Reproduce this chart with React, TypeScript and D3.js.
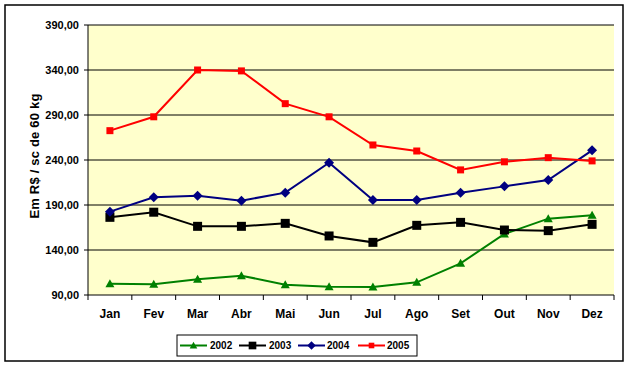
import React from 'react';
import * as d3 from 'd3';

const months = ['Jan', 'Fev', 'Mar', 'Abr', 'Mai', 'Jun', 'Jul', 'Ago', 'Set', 'Out', 'Nov', 'Dez'];
const yTicks = [90, 140, 190, 240, 290, 340, 390];

const s2002 = [102.6, 101.9, 107.4, 111.5, 101.5, 99.3, 98.9, 104.1, 125.2, 157.8, 174.8, 178.5];
const s2003 = [176.3, 182, 166.3, 166.3, 169.6, 155.6, 148.5, 167.4, 170.7, 162.2, 161.5, 168.5];
const s2004 = [182.6, 198.5, 200.4, 194.8, 203.7, 237, 195.6, 195.6, 203.7, 210.7, 217.8, 250.7];
const s2005 = [272.6, 288, 340, 339, 302.6, 288, 256.7, 250, 229, 238, 242.6, 239];

const series = [
  { name: '2002', values: s2002, color: '#008000', marker: 'triangle' },
  { name: '2003', values: s2003, color: '#000000', marker: 'square' },
  { name: '2004', values: s2004, color: '#000080', marker: 'diamond' },
  { name: '2005', values: s2005, color: '#FF0000', marker: 'smallsquare' },
];

const W = 630;
const H = 367;
const plot = { left: 88, top: 25, right: 614, bottom: 295 };
const font = 'Arial, "Liberation Sans", sans-serif';

function Marker({ type, x, y, color }: { type: string; x: number; y: number; color: string }) {
  if (type === 'triangle') {
    return <path d={`M${x},${y - 4.5}L${x + 4.5},${y + 3.5}L${x - 4.5},${y + 3.5}Z`} fill={color} />;
  }
  if (type === 'square') {
    return <rect x={x - 4.5} y={y - 4.5} width={9} height={9} fill={color} />;
  }
  if (type === 'diamond') {
    return <path d={`M${x},${y - 5}L${x + 5},${y}L${x},${y + 5}L${x - 5},${y}Z`} fill={color} />;
  }
  return <rect x={x - 3.5} y={y - 3.5} width={7} height={7} fill={color} />;
}

export default function App() {
  const x = d3.scaleBand().domain(months).range([plot.left, plot.right]);
  const y = d3.scaleLinear().domain([90, 390]).range([plot.bottom, plot.top]);
  const cx = (m: string) => (x(m) as number) + x.bandwidth() / 2;
  const line = d3
    .line<number>()
    .x((_d, i) => cx(months[i]))
    .y((d) => y(d));

  const boundaries = months.map((m) => x(m) as number).concat([plot.right]);

  const legendItems = [
    { lx: 180, tx: 210 },
    { lx: 239, tx: 269 },
    { lx: 298, tx: 327 },
    { lx: 358, tx: 387 },
  ];

  return (
    <svg width={W} height={H} style={{ position: 'absolute', left: 0, top: 0, background: '#fff' }} fontFamily={font}>
      <rect x={5} y={5} width={618} height={356} fill="#fff" stroke="#000" strokeWidth={1.5} />
      <rect x={plot.left} y={plot.top} width={plot.right - plot.left} height={plot.bottom - plot.top} fill="#FFFFCC" />

      {yTicks.slice(1).map((t) => (
        <line key={t} x1={plot.left} x2={plot.right} y1={y(t)} y2={y(t)} stroke="#000" strokeWidth={1} />
      ))}

      {/* axes */}
      <line x1={plot.left} x2={plot.left} y1={plot.top} y2={plot.bottom} stroke="#000" />
      <line x1={plot.left} x2={plot.right} y1={plot.bottom} y2={plot.bottom} stroke="#000" />
      {yTicks.map((t) => (
        <g key={t}>
          <line x1={plot.left - 4} x2={plot.left} y1={y(t)} y2={y(t)} stroke="#000" />
          <text x={79} y={y(t) + 4} textAnchor="end" fontSize={11} fontWeight="bold">
            {t.toFixed(2).replace('.', ',')}
          </text>
        </g>
      ))}
      {boundaries.map((b, i) => (
        <line key={i} x1={b} x2={b} y1={plot.bottom} y2={plot.bottom + 5} stroke="#000" />
      ))}
      {months.map((m) => (
        <text key={m} x={cx(m)} y={318} textAnchor="middle" fontSize={12} fontWeight="bold">
          {m}
        </text>
      ))}

      <text
        transform={`translate(39,156) rotate(-90)`}
        textAnchor="middle"
        fontSize={13}
        fontWeight="bold"
        letterSpacing={0.2}
      >
        Em R$ / sc de 60 kg
      </text>

      {series.map((s) => (
        <g key={s.name}>
          <path d={line(s.values) || ''} fill="none" stroke={s.color} strokeWidth={2} />
          {s.values.map((v, i) => (
            <Marker key={i} type={s.marker} x={cx(months[i])} y={y(v)} color={s.color} />
          ))}
        </g>
      ))}

      {/* legend */}
      <rect x={177} y={335} width={240} height={21} fill="#fff" stroke="#000" strokeWidth={1} />
      {series.map((s, i) => {
        const it = legendItems[i];
        const my = 345.5;
        const lw = 27;
        const sc = s.marker === 'smallsquare' ? 0.8 : 0.85;
        return (
          <g key={s.name}>
            <line x1={it.lx} x2={it.lx + lw} y1={my} y2={my} stroke={s.color} strokeWidth={2} />
            <g transform={`translate(${it.lx + lw / 2},${my}) scale(${sc}) translate(${-(it.lx + lw / 2)},${-my})`}>
              <Marker type={s.marker} x={it.lx + lw / 2} y={my} color={s.color} />
            </g>
            <text x={it.tx} y={my + 3.5} fontSize={10} fontWeight="bold">
              {s.name}
            </text>
          </g>
        );
      })}
    </svg>
  );
}
